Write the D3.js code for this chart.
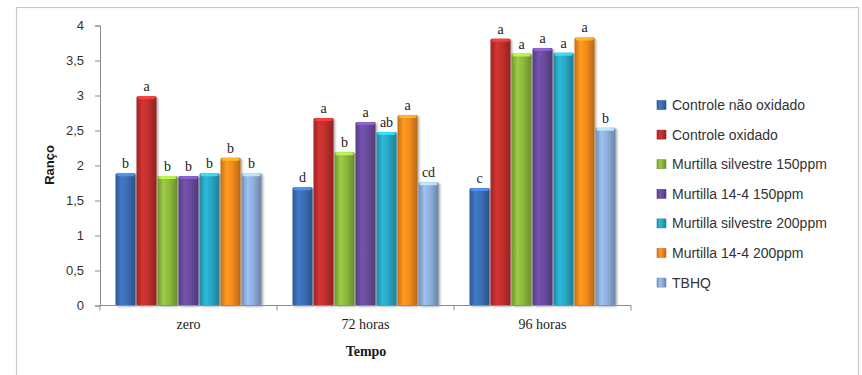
<!DOCTYPE html>
<html>
<head>
<meta charset="utf-8">
<script src="https://cdn.jsdelivr.net/npm/d3@7"></script>
<style>
  html, body { margin: 0; padding: 0; background: #fff; }
  svg { display: block; }
</style>
</head>
<body>
<svg id="chart" width="862" height="375"></svg>
<script>
// Sampling times (x categories)
const categories = ["zero", "72 horas", "96 horas"];

// Treatments (series)
const seriesNames = [
  "Controle não oxidado",
  "Controle oxidado",
  "Murtilla silvestre 150ppm",
  "Murtilla 14-4 150ppm",
  "Murtilla silvestre 200ppm",
  "Murtilla 14-4 200ppm",
  "TBHQ"
];

// Rancidity score per treatment, one value per sampling time
const controleNaoOxidado = [1.89, 1.69, 1.68];
const controleOxidado    = [2.99, 2.68, 3.81];
const silvestre150       = [1.85, 2.19, 3.60];
const m144_150           = [1.85, 2.62, 3.68];
const silvestre200       = [1.89, 2.48, 3.61];
const m144_200           = [2.11, 2.72, 3.83];
const tbhq               = [1.89, 1.76, 2.54];

// Significance letters per treatment, one per sampling time
const lettersControleNaoOxidado = ["b", "d", "c"];
const lettersControleOxidado    = ["a", "a", "a"];
const lettersSilvestre150       = ["b", "b", "a"];
const lettersM144_150           = ["b", "a", "a"];
const lettersSilvestre200       = ["b", "ab", "a"];
const lettersM144_200           = ["b", "a", "a"];
const lettersTbhq               = ["b", "cd", "b"];

const yTicks = [0, 0.5, 1, 1.5, 2, 2.5, 3, 3.5, 4];

const colors = ["#3b6db4", "#bf2f2d", "#8cb83c", "#6a4b9d", "#29a6c3", "#f28a1d", "#8eaedc"];

const values = [controleNaoOxidado, controleOxidado, silvestre150, m144_150, silvestre200, m144_200, tbhq];
const letters = [lettersControleNaoOxidado, lettersControleOxidado, lettersSilvestre150,
                 lettersM144_150, lettersSilvestre200, lettersM144_200, lettersTbhq];

const svg = d3.select("#chart");

// Outer chart frame
svg.append("rect")
  .attr("x", 16.5).attr("y", 7.5)
  .attr("width", 842).attr("height", 380)
  .attr("fill", "#fff").attr("stroke", "#c8c8c8").attr("stroke-width", 1.2);

const x0 = d3.scaleBand().domain(categories).range([100, 631]).paddingInner(0).paddingOuter(0);
const x1 = d3.scaleBand().domain(d3.range(seriesNames.length)).range([0, x0.bandwidth()])
  .paddingInner(0).paddingOuter(0.714);
const y = d3.scaleLinear().domain([0, 4]).range([305.5, 25.5]);

// Gradients giving each bar a rounded, glossy look
const defs = svg.append("defs");
colors.forEach((c, i) => {
  const g = defs.append("linearGradient").attr("id", "grad" + i)
    .attr("x1", "0%").attr("x2", "100%").attr("y1", "0%").attr("y2", "0%");
  const base = d3.color(c);
  g.append("stop").attr("offset", "0%").attr("stop-color", base.darker(0.6));
  g.append("stop").attr("offset", "30%").attr("stop-color", base.brighter(0.3));
  g.append("stop").attr("offset", "60%").attr("stop-color", base);
  g.append("stop").attr("offset", "100%").attr("stop-color", base.darker(0.8));
});
const shadow = defs.append("filter").attr("id", "shadow")
  .attr("x", "-20%").attr("y", "-5%").attr("width", "150%").attr("height", "115%");
shadow.append("feDropShadow").attr("dx", 1.5).attr("dy", 1).attr("stdDeviation", 1.2)
  .attr("flood-color", "#000").attr("flood-opacity", 0.35);

// Y axis
const yAxis = d3.axisLeft(y).tickValues(yTicks).tickSize(5).tickPadding(11)
  .tickFormat(d => String(d).replace(".", ","));
const gy = svg.append("g").attr("transform", "translate(100,0)").call(yAxis);
gy.select(".domain").attr("stroke", "#8c8c8c");
gy.selectAll(".tick line").attr("stroke", "#8c8c8c");
gy.selectAll(".tick text").attr("fill", "#333")
  .style("font-family", "'Liberation Sans', Arial, sans-serif").style("font-size", "13px");

// Bars
const groups = svg.append("g").selectAll("g").data(categories).join("g")
  .attr("transform", d => `translate(${x0(d)},0)`);

groups.each(function(cat, ci) {
  const g = d3.select(this);
  seriesNames.forEach((s, si) => {
    const v = values[si][ci];
    const bx = x1(si), bw = x1.bandwidth();
    g.append("rect")
      .attr("x", bx + 0.5).attr("y", y(v))
      .attr("width", bw - 1).attr("height", y(0) - y(v))
      .attr("rx", 1.5)
      .attr("fill", `url(#grad${si})`)
      .attr("filter", "url(#shadow)");
    // lighter cap on top of each bar
    g.append("rect")
      .attr("x", bx + 1.5).attr("y", y(v))
      .attr("width", bw - 3).attr("height", 3)
      .attr("rx", 1.5)
      .attr("fill", d3.color(colors[si]).brighter(0.9))
      .attr("opacity", 0.85);
    g.append("text")
      .attr("x", bx + bw / 2).attr("y", y(v) - 5)
      .attr("text-anchor", "middle")
      .attr("fill", "#1a1a1a")
      .style("font-family", "'Liberation Serif', 'Times New Roman', serif")
      .style("font-size", "14px")
      .text(letters[si][ci]);
  });
});

// X axis
const xAxis = d3.axisBottom(x0).tickSize(0).tickPadding(14);
const gx = svg.append("g").attr("transform", `translate(0,${y(0)})`).call(xAxis);
gx.select(".domain").attr("stroke", "#8c8c8c").attr("d", "M100,0H631");
gx.selectAll(".tick text").attr("fill", "#1a1a1a")
  .style("font-family", "'Liberation Serif', 'Times New Roman', serif").style("font-size", "14px");
// boundary ticks between categories
gx.selectAll(".sep").data([100, 277, 454, 631]).join("line")
  .attr("x1", d => d).attr("x2", d => d).attr("y1", 0).attr("y2", 5)
  .attr("stroke", "#8c8c8c");

// Axis titles
svg.append("text")
  .attr("transform", "translate(54,165) rotate(-90)")
  .attr("text-anchor", "middle")
  .attr("fill", "#1a1a1a")
  .style("font-family", "'Liberation Sans', Arial, sans-serif")
  .style("font-size", "13px").style("font-weight", "bold")
  .text("Ranço");

svg.append("text")
  .attr("x", 366).attr("y", 356)
  .attr("text-anchor", "middle")
  .attr("fill", "#1a1a1a")
  .style("font-family", "'Liberation Serif', 'Times New Roman', serif")
  .style("font-size", "14px").style("font-weight", "bold")
  .text("Tempo");

// Legend
const legend = svg.append("g").attr("transform", "translate(657,105)");
const items = legend.selectAll("g").data(seriesNames).join("g")
  .attr("transform", (d, i) => `translate(0,${i * 29.6})`);
items.append("rect")
  .attr("x", 0).attr("y", -4.5).attr("width", 9).attr("height", 9)
  .attr("fill", (d, i) => `url(#grad${i})`)
  .attr("stroke", (d, i) => d3.color(colors[i]).darker(0.5)).attr("stroke-width", 0.6);
items.append("text")
  .attr("x", 15).attr("y", 0).attr("dy", "0.35em")
  .attr("fill", "#333")
  .style("font-family", "'Liberation Sans', Arial, sans-serif")
  .style("font-size", "14px")
  .text(d => d);
</script>
</body>
</html>
